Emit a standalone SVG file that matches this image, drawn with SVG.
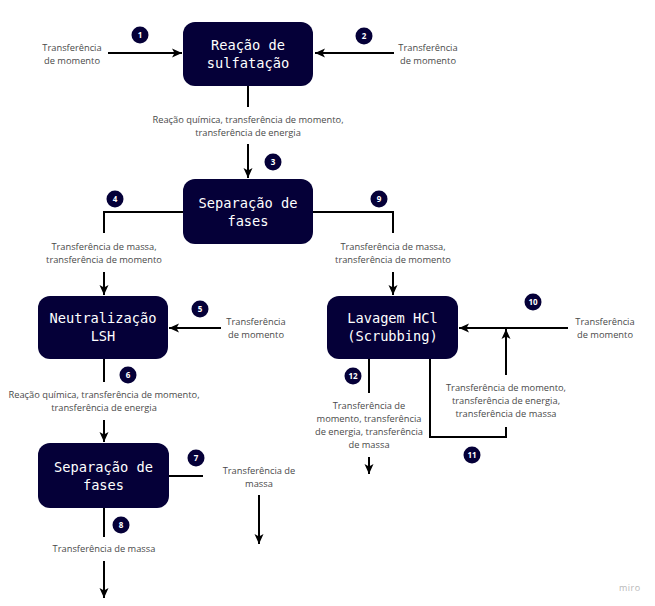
<svg xmlns="http://www.w3.org/2000/svg" width="655" height="606" viewBox="0 0 655 606">
<defs>
<style>
.node rect{fill:#050038;}
.node text{font-family:"DejaVu Sans Mono","Liberation Mono",monospace;font-size:13.7px;fill:#ffffff;text-anchor:middle;}
.lbl{font-family:"Open Sans","Noto Sans",sans-serif;font-size:9.3px;fill:#4a4a4a;text-anchor:middle;}
.ln{fill:none;stroke:#000000;stroke-width:2;}
.arr{marker-end:url(#ah);}
.badge circle{fill:#050038;}
.badge text{font-family:"Open Sans","Noto Sans",sans-serif;font-size:8px;font-weight:bold;fill:#ffffff;text-anchor:middle;}
.miro{font-family:"Open Sans","Noto Sans",sans-serif;font-size:9px;fill:#b8b8b8;letter-spacing:0.5px;}
</style>
<marker id="ah" markerUnits="userSpaceOnUse" markerWidth="12" markerHeight="10" refX="10" refY="5" orient="auto">
<path d="M0,0.5 L10,5 L0,9.5 L2.5,5 z" fill="#000000"/>
</marker>
</defs>
<rect width="655" height="606" fill="#ffffff"/>

<g id="connectors">
<path class="ln arr" d="M108,53 H182"/>
<path class="ln arr" d="M394,53 H315"/>
<path class="ln" d="M248,86 V107"/>
<path class="ln arr" d="M248,144 V178"/>
<path class="ln" d="M183,212 H104 V233"/>
<path class="ln arr" d="M104,272 V295"/>
<path class="ln" d="M313,212 H393 V233"/>
<path class="ln arr" d="M393,272 V295"/>
<path class="ln arr" d="M221,328 H169"/>
<path class="ln arr" d="M568,328 H459"/>
<path class="ln arr" d="M506,375 V329"/>
<path class="ln" d="M506,427 V437 H430 V359"/>
<path class="ln" d="M369,359 V393"/>
<path class="ln arr" d="M369,457 V474"/>
<path class="ln" d="M104,359 V382"/>
<path class="ln arr" d="M104,420 V442"/>
<path class="ln" d="M169,476 H203"/>
<path class="ln arr" d="M259,495 V544"/>
<path class="ln" d="M104,508 V537"/>
<path class="ln arr" d="M104,561 V598"/>
</g>

<g id="labels">
<text class="lbl" x="72" y="50.5">Transferência</text>
<text class="lbl" x="72" y="64">de momento</text>
<text class="lbl" x="428" y="50.5">Transferência</text>
<text class="lbl" x="428" y="64">de momento</text>
<text class="lbl" x="248" y="122.5">Reação química, transferência de momento,</text>
<text class="lbl" x="248" y="136">transferência de energia</text>
<text class="lbl" x="104" y="249.5">Transferência de massa,</text>
<text class="lbl" x="104" y="262.5">transferência de momento</text>
<text class="lbl" x="393" y="249.5">Transferência de massa,</text>
<text class="lbl" x="393" y="262.5">transferência de momento</text>
<text class="lbl" x="256" y="325">Transferência</text>
<text class="lbl" x="256" y="337.5">de momento</text>
<text class="lbl" x="605" y="325">Transferência</text>
<text class="lbl" x="605" y="337.5">de momento</text>
<text class="lbl" x="506" y="391">Transferência de momento,</text>
<text class="lbl" x="506" y="404">transferência de energia,</text>
<text class="lbl" x="506" y="417">transferência de massa</text>
<text class="lbl" x="369" y="409">Transferência de</text>
<text class="lbl" x="369" y="422">momento, transferência</text>
<text class="lbl" x="369" y="435">de energia, transferência</text>
<text class="lbl" x="369" y="448">de massa</text>
<text class="lbl" x="104" y="398">Reação química, transferência de momento,</text>
<text class="lbl" x="104" y="411">transferência de energia</text>
<text class="lbl" x="259" y="474">Transferência de</text>
<text class="lbl" x="259" y="487">massa</text>
<text class="lbl" x="104" y="552">Transferência de massa</text>
</g>

<g id="badges">
<g class="badge" id="b1"><circle cx="140" cy="35" r="8.5"/><text x="140" y="38">1</text></g>
<g class="badge" id="b2"><circle cx="364" cy="36" r="8.5"/><text x="364" y="39">2</text></g>
<g class="badge" id="b3"><circle cx="273" cy="162" r="8.5"/><text x="273" y="165">3</text></g>
<g class="badge" id="b4"><circle cx="115" cy="199" r="8.5"/><text x="115" y="202">4</text></g>
<g class="badge" id="b5"><circle cx="200" cy="309" r="8.5"/><text x="200" y="312">5</text></g>
<g class="badge" id="b6"><circle cx="128" cy="375" r="8.5"/><text x="128" y="378">6</text></g>
<g class="badge" id="b7"><circle cx="196" cy="458" r="8.5"/><text x="196" y="461">7</text></g>
<g class="badge" id="b8"><circle cx="121" cy="525" r="8.5"/><text x="121" y="528">8</text></g>
<g class="badge" id="b9"><circle cx="379" cy="199" r="8.5"/><text x="379" y="202">9</text></g>
<g class="badge" id="b10"><circle cx="533" cy="302" r="8.5"/><text x="533" y="305">10</text></g>
<g class="badge" id="b11"><circle cx="472" cy="455" r="8.5"/><text x="472" y="458">11</text></g>
<g class="badge" id="b12"><circle cx="353" cy="376" r="8.5"/><text x="353" y="379">12</text></g>
</g>

<g class="node" id="n-sulfatacao"><rect x="183" y="22" width="130" height="64" rx="12"/><text x="248" y="50">Reação de</text><text x="248" y="68">sulfatação</text></g>
<g class="node" id="n-separacao1"><rect x="183" y="179" width="130" height="65" rx="12"/><text x="248" y="208">Separação de</text><text x="248" y="226">fases</text></g>
<g class="node" id="n-neutralizacao"><rect x="38" y="296" width="130" height="63" rx="12"/><text x="103" y="323">Neutralização</text><text x="103" y="341">LSH</text></g>
<g class="node" id="n-lavagem"><rect x="327" y="296" width="131" height="63" rx="12"/><text x="392.5" y="323">Lavagem HCl</text><text x="392.5" y="341">(Scrubbing)</text></g>
<g class="node" id="n-separacao2"><rect x="38" y="443" width="131" height="65" rx="12"/><text x="103.5" y="472">Separação de</text><text x="103.5" y="490">fases</text></g>

<text class="miro" x="619" y="591">miro</text>
</svg>
